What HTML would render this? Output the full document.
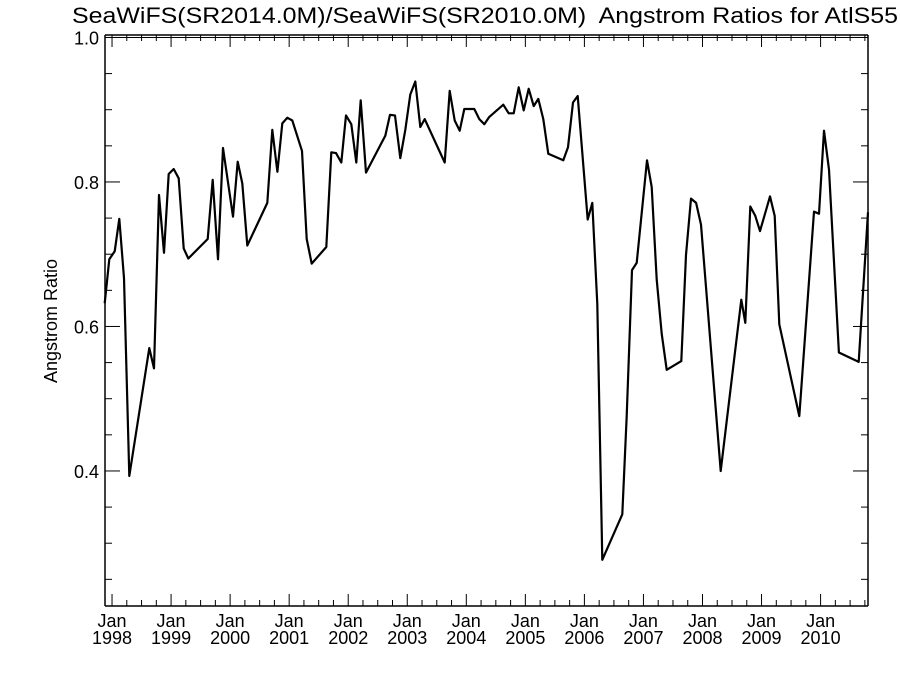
<!DOCTYPE html>
<html><head><meta charset="utf-8"><style>
html,body{margin:0;padding:0;background:#fff;}
svg{display:block;font-family:"Liberation Sans",sans-serif;}
</style></head><body>
<svg id="chart" width="900" height="675" viewBox="0 0 900 675" xmlns="http://www.w3.org/2000/svg">
<rect width="900" height="675" fill="#fff"/>
<text x="72" y="23" font-size="22" xml:space="preserve" textLength="826" lengthAdjust="spacingAndGlyphs">SeaWiFS(SR2014.0M)/SeaWiFS(SR2010.0M)  Angstrom Ratios for AtlS55</text>
<text transform="translate(57,321) rotate(-90)" text-anchor="middle" font-size="18">Angstrom Ratio</text>
<g id="axes"></g>
<path id="series" fill="none" stroke="#000" stroke-width="2.2" stroke-linejoin="round"/>
</svg>
<script>
const dates = [1997.876,1997.954,1998.046,1998.124,1998.203,1998.293,1998.632,1998.711,1998.796,1998.881,1998.960,1999.045,1999.130,1999.214,1999.292,1999.621,1999.705,1999.795,1999.880,2000.049,2000.129,2000.207,2000.291,2000.630,2000.715,2000.800,2000.884,2000.969,2001.053,2001.218,2001.297,2001.382,2001.629,2001.714,2001.793,2001.883,2001.963,2002.053,2002.137,2002.212,2002.301,2002.628,2002.708,2002.793,2002.882,2002.967,2003.052,2003.136,2003.221,2003.296,2003.634,2003.719,2003.804,2003.888,2003.966,2004.051,2004.135,2004.220,2004.305,2004.390,2004.627,2004.718,2004.803,2004.887,2004.972,2005.057,2005.141,2005.219,2005.304,2005.389,2005.643,2005.722,2005.807,2005.887,2006.056,2006.134,2006.218,2006.303,2006.642,2006.716,2006.806,2006.886,2007.060,2007.140,2007.224,2007.309,2007.394,2007.641,2007.721,2007.806,2007.891,2007.975,2008.308,2008.657,2008.725,2008.810,2008.895,2008.974,2009.143,2009.223,2009.301,2009.639,2009.888,2009.973,2010.057,2010.142,2010.311,2010.645,2010.803];
const ratios = [0.632,0.693,0.704,0.749,0.667,0.393,0.570,0.542,0.782,0.702,0.811,0.818,0.805,0.708,0.694,0.721,0.803,0.693,0.847,0.752,0.828,0.798,0.712,0.771,0.872,0.814,0.881,0.889,0.885,0.843,0.721,0.687,0.710,0.841,0.840,0.827,0.892,0.880,0.827,0.913,0.813,0.864,0.893,0.892,0.833,0.872,0.921,0.939,0.876,0.887,0.827,0.926,0.885,0.871,0.901,0.901,0.901,0.887,0.880,0.890,0.907,0.895,0.895,0.931,0.899,0.929,0.905,0.915,0.887,0.839,0.830,0.848,0.910,0.919,0.748,0.771,0.631,0.277,0.340,0.476,0.678,0.688,0.830,0.793,0.665,0.590,0.540,0.552,0.699,0.777,0.771,0.741,0.400,0.637,0.605,0.766,0.753,0.732,0.780,0.753,0.603,0.476,0.759,0.756,0.871,0.817,0.564,0.551,0.758];
const yTickValues = [0.4,0.6,0.8,1.0];
const yTickLabels = ["0.4","0.6","0.8","1.0"];
const xTickYears = [1998,1999,2000,2001,2002,2003,2004,2005,2006,2007,2008,2009,2010];

const L=105,R=868,T=35,B=606;
const X0=1997.881,X1=2010.803,Y0=0.2131,Y1=1.0034;
function sx(t){return L+(t-X0)/(X1-X0)*(R-L);}
function sy(v){return B-(v-Y0)/(Y1-Y0)*(B-T);}
const NS="http://www.w3.org/2000/svg";
const axes=document.getElementById('axes');
function line(x1,y1,x2,y2,name,w){
  const l=document.createElementNS(NS,'line');
  l.setAttribute('x1',x1);l.setAttribute('y1',y1);l.setAttribute('x2',x2);l.setAttribute('y2',y2);
  l.setAttribute('stroke','#000');l.setAttribute('stroke-width',w||1);
  
  
  axes.appendChild(l);
}
function text(x,y,s,anchor,name){
  const t=document.createElementNS(NS,'text');
  t.setAttribute('x',x);t.setAttribute('y',y);t.setAttribute('font-size','18');
  t.setAttribute('text-anchor',anchor);t.textContent=s;
  
  
  axes.appendChild(t);
}
line(L,T,R,T,'top-axis',1.5);line(L,T+2.5,R,T+2.5,'top-axis-inner',1);
line(L,B,R,B,'x-axis',1.5);line(L,T,L,B,'y-axis',1.5);line(R,T,R,B,'right-axis',1.5);
for(let k=5;k<=20;k++){
  const v=k*0.05; if(v<Y0||v>Y1) continue;
  const y=sy(v); const major=(k%4===0);
  const len=major?15:7;
  line(L,y,L+len,y,'y-tick',1);line(R,y,R-len,y,'y-tick-right',1);
}
yTickValues.forEach((v,i)=>text(L-6,sy(v)+7,yTickLabels[i],'end','y-tick-label'));
for(let y=1997.75;y<=X1;y+=0.25){
  if(y<X0) continue;
  const x=sx(y); const major=Math.abs(y-Math.round(y))<1e-6;
  const len=major?12:6;
  line(x,B,x,B-len,'x-tick',1);line(x,T,x,T+len,'x-tick-top',1);
}
xTickYears.forEach(yr=>{
  const x=sx(yr);
  text(x,627,'Jan','middle','x-tick-label-month');
  text(x,644,String(yr),'middle','x-tick-label-year');
});
let d='';
dates.forEach((t,i)=>{d+=(i?'L':'M')+sx(t).toFixed(1)+','+sy(ratios[i]).toFixed(1);});
document.getElementById('series').setAttribute('d',d);
</script>
</body></html>
